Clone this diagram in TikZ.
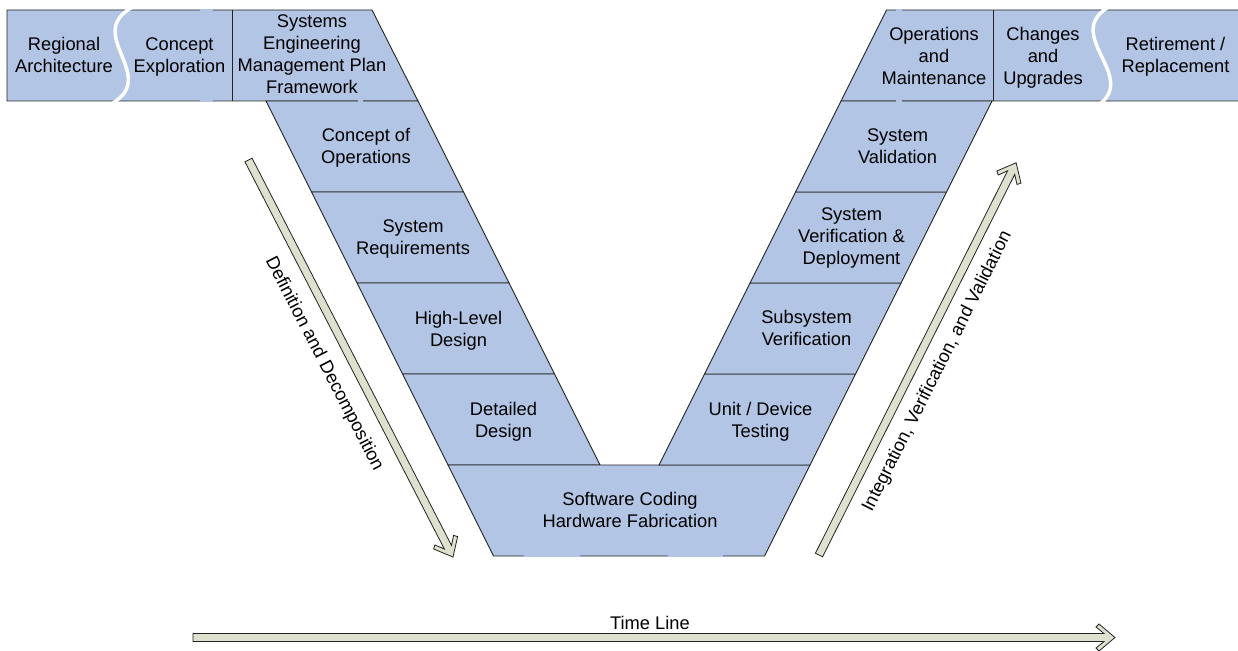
\documentclass[tikz,border=0pt]{standalone}
\usepackage{fontspec}
\setmainfont{Liberation Sans}
\definecolor{boxfill}{RGB}{178,197,228}
\definecolor{arrowfill}{RGB}{221,225,205}
\definecolor{edge}{RGB}{35,35,35}
% last line of a block: keep its height, drop its descender depth
\newcommand{\nodepth}[1]{\raisebox{0pt}[\height][0pt]{#1}}
\begin{document}
\begin{tikzpicture}[x=1pt,y=-1pt,
  stage/.style={fill=boxfill, draw=edge, line width=0.9pt, line join=miter},
  divider/.style={draw=edge, line width=0.9pt},
  txt/.style={align=center, font=\fontsize{18.3}{22}\selectfont, inner sep=0pt},
  bigarrow/.style={fill=arrowfill, draw=edge, line width=0.8pt, line join=miter},
  wave/.style={draw=white, line width=3.5pt},
  gap/.style={draw=boxfill, line width=1.4pt}]

\useasboundingbox (0,0) rectangle (1238,650);

% ---- top bands -------------------------------------------------------
\path[stage] (7,10) -- (372,10) -- (418,101) -- (7,101) -- cycle;
\path[divider] (232,10) -- (232,101);
\path[stage] (886.5,10) -- (1245,10) -- (1245,101) -- (841,101) -- cycle;
\path[divider] (993,10) -- (993,101);

% breaks between phases
\path[wave] (131,8) .. controls (85,35) and (158,75) .. (113,103);
\path[wave] (1107,8) .. controls (1065,35) and (1135,75) .. (1101,103);

% ---- left arm of the V ----------------------------------------------
\path[stage] (266,101) -- (418,101) -- (463.5,192) -- (311.5,192) -- cycle;
\path[stage] (311.5,192) -- (463.5,192) -- (509,283) -- (357,283) -- cycle;
\path[stage] (357,283) -- (509,283) -- (554.5,374) -- (402.5,374) -- cycle;
\path[stage] (402.5,374) -- (554.5,374) -- (600,465) -- (448,465) -- cycle;

% ---- bottom of the V ------------------------------------------------
\path[stage] (448,465) -- (810,465) -- (764.5,556) -- (493.5,556) -- cycle;

% ---- right arm of the V ---------------------------------------------
\path[stage] (704.5,374) -- (855.5,374) -- (810,465) -- (659,465) -- cycle;
\path[stage] (750,283) -- (901,283) -- (855.5,374) -- (704.5,374) -- cycle;
\path[stage] (795.5,192) -- (946.5,192) -- (901,283) -- (750,283) -- cycle;
\path[stage] (841,101) -- (992,101) -- (946.5,192) -- (795.5,192) -- cycle;

% small breaks in the outlines
\path[gap] (200,10) -- (213,10);
\path[gap] (200,101) -- (213,101);
\path[gap] (357.5,101) -- (363,101);
\path[gap] (896,10) -- (902,10);
\path[gap] (896,101) -- (902,101);
\path[gap] (524,556) -- (580,556);
\path[gap] (668,556) -- (723,556);

% ---- phase names ----------------------------------------------------
\node[txt] (regArch) at (64,54.5) {Regional\\Architecture};
\node[txt] (conExp) at (179.5,55) {Concept\\\nodepth{Exploration}};
\node[txt] (semp) at (312,54) {Systems\\Engineering\\Management Plan\\Framework};
\node[txt] (conOps) at (366,145.5) {Concept of\\\nodepth{Operations}};
\node[txt] (sysReq) at (413,237.5) {System\\\nodepth{Requirements}};
\node[txt] (hld) at (458.5,328.5) {High-Level\\\nodepth{Design}};
\node[txt] (dtl) at (503.5,419.5) {Detailed\\\nodepth{Design}};
\node[txt] (swhw) at (630,509.5) {Software Coding\\Hardware Fabrication};
\node[txt] (udt) at (760.5,419.5) {Unit / Device\\\nodepth{Testing}};
\node[txt] (ssv) at (806.5,328) {Subsystem\\Verification};
\node[txt] (svd) at (851.5,236.5) {System\\Verification \&\\\nodepth{Deployment}};
\node[txt] (sval) at (897.5,146) {System\\Validation};
\node[txt] (opm) at (934,55.5) {Operations\\and\\Maintenance};
\node[txt] (chu) at (1043,55.5) {Changes\\and\\\nodepth{Upgrades}};
\node[txt] (ret) at (1175.5,55) {Retirement /\\\nodepth{Replacement}};

% ---- process arrows -------------------------------------------------
\coordinate (ddTail) at (248.5,160);
\coordinate (ivTail) at (819,555);
\coordinate (tlTail) at (193,637.5);

% definition and decomposition (length 446.6)
\begin{scope}[shift={(ddTail)}, rotate=-62.75]
  \path[bigarrow] (0,4) -- (435.6,4) -- (427.6,10.5) -- (430.6,13.5) -- (446.6,0)
    -- (430.6,-13.5) -- (427.6,-10.5) -- (435.6,-4) -- (0,-4) -- cycle;
\end{scope}
% integration, verification and validation (length 439)
\begin{scope}[shift={(ivTail)}, rotate=63.32]
  \path[bigarrow] (0,4) -- (428,4) -- (420,10.5) -- (423,13.5) -- (439,0)
    -- (423,-13.5) -- (420,-10.5) -- (428,-4) -- (0,-4) -- cycle;
\end{scope}
% time line (length 922)
\begin{scope}[shift={(tlTail)}]
  \path[bigarrow] (0,4) -- (911,4) -- (903,10.5) -- (906,13.5) -- (922,0)
    -- (906,-13.5) -- (903,-10.5) -- (911,-4) -- (0,-4) -- cycle;
\end{scope}

\node[txt, rotate=-62.75] (ddLabel) at (324,364) {Definition and Decomposition};
\node[txt, rotate=63.32] (ivLabel) at (937.5,371.5) {Integration, Verification, and Validation};
\node[txt] (tlLabel) at (650,623) {Time Line};
\end{tikzpicture}
\end{document}
